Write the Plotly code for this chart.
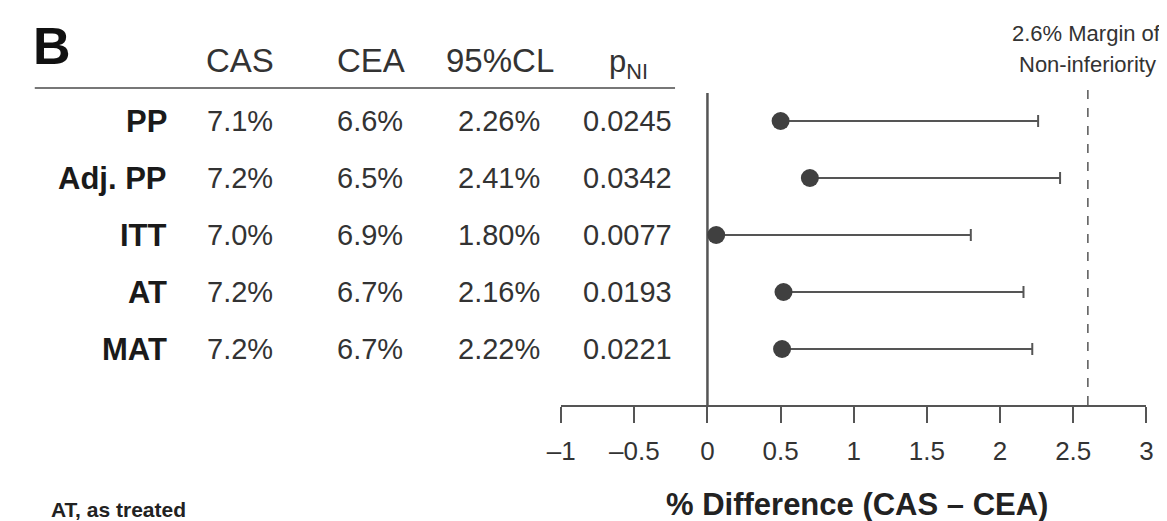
import plotly.graph_objects as go

# ---- data ----
analyses = ["PP", "Adj. PP", "ITT", "AT", "MAT"]
cas_rate = ["7.1%", "7.2%", "7.0%", "7.2%", "7.2%"]
cea_rate = ["6.6%", "6.5%", "6.9%", "6.7%", "6.7%"]
cl95_txt = ["2.26%", "2.41%", "1.80%", "2.16%", "2.22%"]
p_ni = ["0.0245", "0.0342", "0.0077", "0.0193", "0.0221"]
diff = [0.50, 0.70, 0.06, 0.52, 0.51]
upper_cl = [2.26, 2.41, 1.80, 2.16, 2.22]
margin = 2.6
tick_vals = [-1, -0.5, 0, 0.5, 1, 1.5, 2, 2.5, 3]
tick_text = ["\u20131", "\u20130.5", "0", "0.5", "1", "1.5", "2", "2.5", "3"]

W, H = 1167, 521
n = len(analyses)
rows = [n - i for i in range(n)]  # PP at top

def px(xp):
    return xp / W

Y0, DY = 398.0, 57.0
def yv(pix):
    return (Y0 - pix) / DY

FONT = "Liberation Sans, Arial, Helvetica, sans-serif"
LINE = "#555555"

fig = go.Figure()

fig.add_trace(go.Scatter(x=[0, 0], y=[yv(85), 0], mode="lines",
                         line=dict(color=LINE, width=2.5), hoverinfo="skip", showlegend=False))
fig.add_trace(go.Scatter(x=[margin, margin], y=[yv(82), 0], mode="lines",
                         line=dict(color=LINE, width=1.5, dash="dash"), hoverinfo="skip", showlegend=False))
fig.add_trace(go.Scatter(
    x=diff, y=rows, mode="markers",
    marker=dict(size=18, color="#404040"),
    error_x=dict(type="data", symmetric=False,
                 array=[u - d for u, d in zip(upper_cl, diff)],
                 arrayminus=[0] * n, color=LINE, thickness=2, width=6),
    showlegend=False))

ann = []
def add(text, x, y, size, bold=False, color="#333333", xanchor="center"):
    ann.append(dict(text=f"<b>{text}</b>" if bold else text, x=x, y=y, xref="paper", yref="y",
                    showarrow=False, xanchor=xanchor, yanchor="middle",
                    font=dict(family=FONT, size=size, color=color)))

add("B", px(9), yv(38), 52, bold=True, color="#111111", xanchor="left")
hy = yv(52)
add("CAS", px(222), hy, 33)
add("CEA", px(355), hy, 33)
add("95%CL", px(487), hy, 33)
add("p<sub>NI</sub>", px(618), yv(56), 31)

for i, r in enumerate(rows):
    add(analyses[i], px(150), r, 31, bold=True, color="#1a1a1a", xanchor="right")
    add(cas_rate[i], px(222), r, 29)
    add(cea_rate[i], px(354), r, 29)
    add(cl95_txt[i], px(486), r, 29)
    add(p_ni[i], px(617), r, 29)

add("2.6% Margin of", px(1084), yv(25), 22)
add("Non-inferiority", px(1085), yv(56), 22)
add("AT, as treated", px(27), yv(501), 21, bold=True, color="#222222", xanchor="left")
add("% Difference (CAS \u2013 CEA)", px(850), yv(496), 31, bold=True, color="#222222")

shapes = [dict(type="line", xref="paper", yref="y", x0=px(13), x1=px(665),
               y0=yv(80), y1=yv(80), line=dict(color="#777777", width=2))]

fig.update_layout(
    width=W, height=H, margin=dict(l=0, r=0, t=0, b=0),
    paper_bgcolor="white", plot_bgcolor="white",
    annotations=ann, shapes=shapes,
    xaxis=dict(domain=[549 / W, 1145 / W], range=[-1, 3], anchor="free",
               position=(H - 398) / H, showgrid=False, zeroline=False,
               showline=True, linecolor=LINE, linewidth=2,
               ticks="outside", ticklen=16, tickwidth=2, tickcolor=LINE,
               ticklabelstandoff=6,
               tickvals=tick_vals, ticktext=tick_text,
               tickfont=dict(family=FONT, size=26, color="#333333")),
    yaxis=dict(domain=[0, 1], range=[yv(H), yv(0)], visible=False, showgrid=False, zeroline=False),
)

fig.write_html("out.html")
